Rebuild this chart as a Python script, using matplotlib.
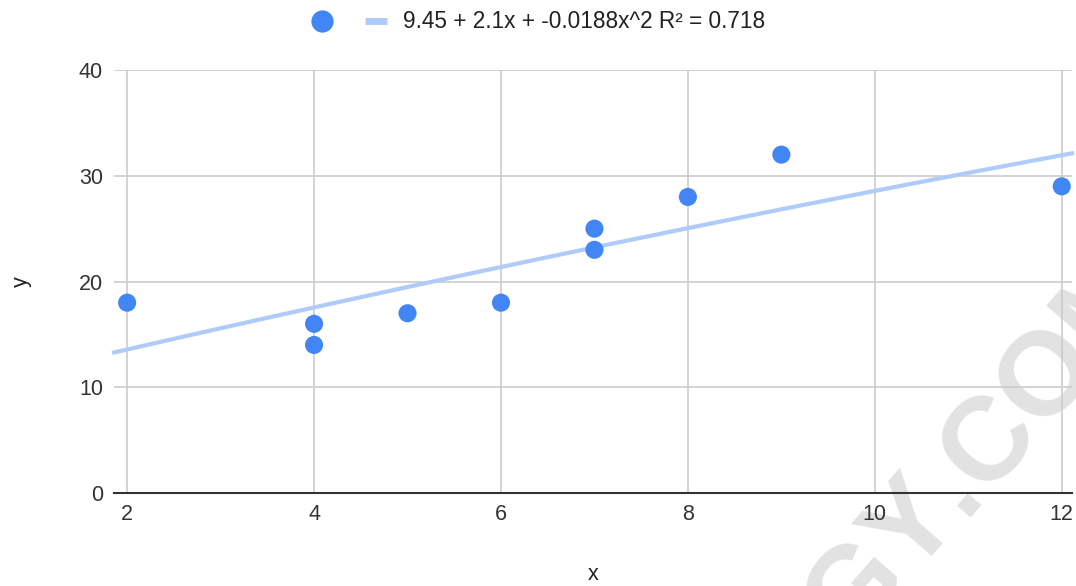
import numpy as np
import matplotlib
matplotlib.use('agg')
from matplotlib import pyplot as plt
from matplotlib.lines import Line2D

# data
x_values = [2, 4, 4, 5, 6, 7, 7, 8, 9, 12]
y_values = [18, 16, 14, 17, 18, 25, 23, 28, 32, 29]

# trendline coefficients as printed in the legend (c0 + c1*x + c2*x^2)
trend_coef = [9.45, 2.1, -0.0188]
trend_label = '9.45 + 2.1x + -0.0188x^2 R² = 0.718'

x_ticks = [2, 4, 6, 8, 10, 12]
y_ticks = [0, 10, 20, 30, 40]

point_color = '#4285F4'
trend_color = '#AECBFA'

plt.rcParams['font.family'] = ['Liberation Sans', 'DejaVu Sans']

fig = plt.figure(figsize=(10.76, 5.86), dpi=100)
ax = fig.add_axes([0.106, 0.1587, 0.8903, 0.7218])
ax.patch.set_alpha(0)  # let the watermark show under the grid

xmin, xmax = 1.86, 12.11
ax.set_xlim(xmin, xmax)
ax.set_ylim(0, 40)

# trendline over the full x range
xs = np.linspace(xmin, xmax, 200)
ys = trend_coef[0] + trend_coef[1] * xs + trend_coef[2] * xs ** 2
ax.plot(xs, ys, color=trend_color, linewidth=3, zorder=2, clip_on=False)

ax.scatter(x_values, y_values, s=170, color=point_color, zorder=3,
           edgecolors='none', clip_on=False)

ax.set_xticks(x_ticks)
ax.set_yticks(y_ticks)
ax.grid(True, color='#cccccc', linewidth=1.2, zorder=0)
ax.set_axisbelow(True)
ax.tick_params(axis='both', length=0, labelsize=15.5, labelcolor='#333333')
ax.tick_params(axis='y', pad=8)
ax.tick_params(axis='x', pad=8)

for side in ['top', 'right', 'left']:
    ax.spines[side].set_visible(False)
ax.spines['bottom'].set_color('#333333')
ax.spines['bottom'].set_linewidth(1.5)
ax.spines['bottom'].set_zorder(4)

ax.set_xlabel('x', fontsize=15.5, color='#222222', labelpad=28)
ax.set_ylabel('y', fontsize=15.5, color='#222222', labelpad=34)

handles = [
    Line2D([], [], linestyle='none', marker='o', markersize=16,
           markerfacecolor=point_color, markeredgecolor='none'),
    Line2D([], [], color=trend_color, linewidth=5, solid_capstyle='butt'),
]
fig.legend(handles, ['', trend_label], loc='center', bbox_to_anchor=(0.5, 0.9625),
           ncol=2, frameon=False, fontsize=16.3, handlelength=1.0,
           handletextpad=0.7, columnspacing=0.69, labelcolor='#222222')

# watermark, split at the period so it can be placed by that point
wm = dict(fontsize=85, fontweight='bold', family='Liberation Sans', color='#e2e2e2',
          rotation=49, rotation_mode='anchor', va='baseline', zorder=-1)
fig.text(0.895, 0.118, 'STATOLOGY', ha='right', **wm)
fig.text(0.895, 0.118, '.COM', ha='left', **wm)

fig.savefig('out.png', dpi=100)
